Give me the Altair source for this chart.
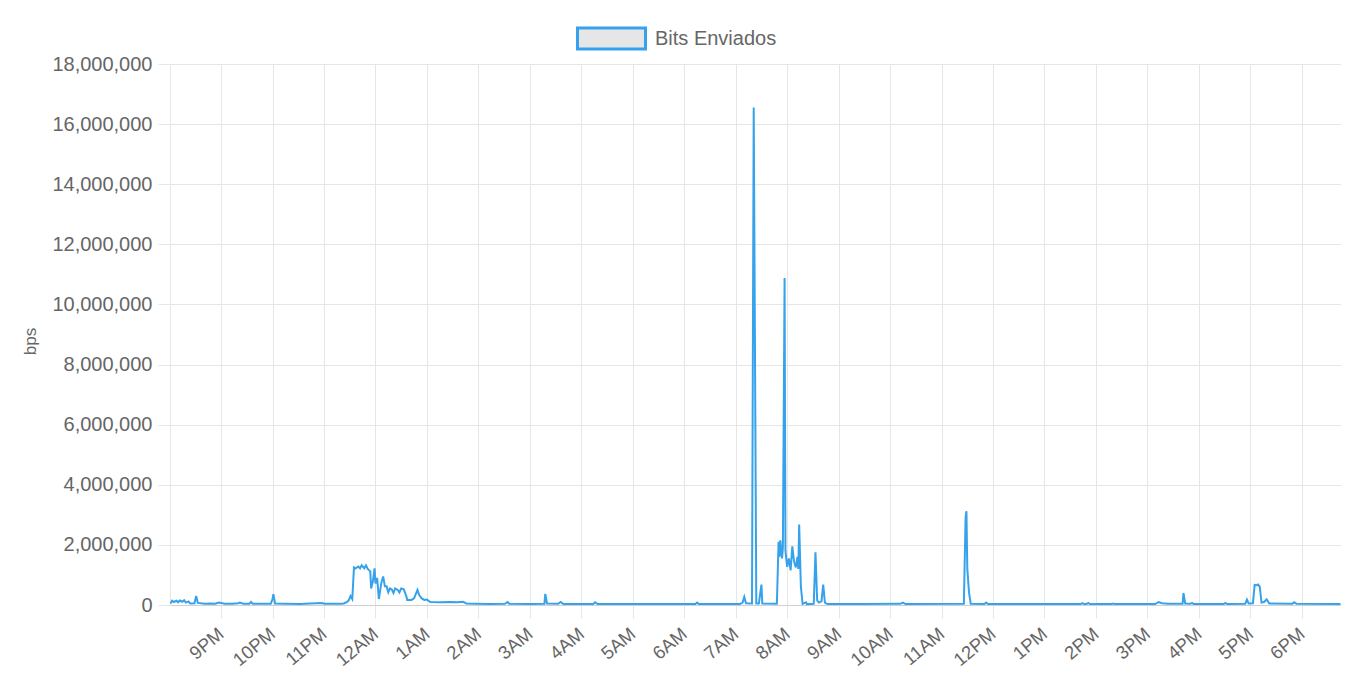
import altair as alt
import pandas as pd

series_name = "Bits Enviados"

times = [
    "20:01", "20:03", "20:05", "20:08", "20:10", "20:12", "20:15", "20:17", "20:19", "20:22",
    "20:24", "20:29", "20:31", "20:33", "20:41", "20:47", "20:53", "20:58", "21:00", "21:04",
    "21:13", "21:20", "21:22", "21:26", "21:33", "21:35", "21:37", "21:58", "22:00", "22:01",
    "22:03", "22:15", "22:32", "22:44", "22:58", "23:00", "23:19", "23:23", "23:27", "23:29",
    "23:31", "23:33", "23:35", "23:37", "23:40", "23:42", "23:44", "23:47", "23:49", "23:51",
    "23:54", "23:55", "23:57", "23:59", "00:00", "00:02", "00:04", "00:07", "00:09", "00:11",
    "00:13", "00:15", "00:17", "00:19", "00:21", "00:23", "00:26", "00:28", "00:30", "00:33",
    "00:36", "00:37", "00:42", "00:45", "00:49", "00:51", "00:54", "00:57", "01:00", "01:04",
    "01:15", "01:27", "01:36", "01:42", "01:46", "01:56", "02:14", "02:31", "02:34", "02:36",
    "03:00", "03:17", "03:18", "03:20", "03:33", "03:36", "03:39", "03:59", "04:14", "04:16",
    "04:19", "05:09", "06:13", "06:15", "06:17", "07:05", "07:08", "07:10", "07:12", "07:19",
    "07:21", "07:24", "07:27", "07:30", "07:31", "07:48", "07:50", "07:51", "07:52", "07:54",
    "07:55", "07:57", "07:58", "08:00", "08:02", "08:04", "08:06", "08:08", "08:10", "08:12",
    "08:13", "08:14", "08:16", "08:18", "08:22", "08:23", "08:31", "08:33", "08:35", "08:37",
    "08:40", "08:42", "08:44", "08:47", "09:25", "10:12", "10:15", "10:18", "11:26", "11:28",
    "11:29", "11:30", "11:32", "11:34", "11:50", "11:52", "11:54", "12:54", "13:42", "13:44",
    "13:46", "13:49", "13:51", "13:53", "14:18", "14:20", "14:22", "15:09", "15:13", "15:17",
    "15:24", "15:41", "15:42", "15:44", "15:50", "15:52", "15:54", "16:29", "16:31", "16:33",
    "16:54", "16:56", "16:58", "17:03", "17:05", "17:07", "17:09", "17:11", "17:13", "17:16",
    "17:19", "17:22", "17:49", "17:51", "17:54", "18:45",
]

values = [
    50000, 140000, 100000, 140000, 90000, 150000, 110000, 160000, 80000, 120000,
    50000, 60000, 300000, 70000, 40000, 50000, 40000, 80000, 70000, 40000,
    40000, 60000, 80000, 40000, 40000, 100000, 40000, 40000, 200000, 360000,
    50000, 40000, 30000, 50000, 70000, 40000, 40000, 50000, 100000, 160000,
    300000, 200000, 1250000, 1220000, 1280000, 1220000, 1320000, 1220000, 1320000, 1200000,
    1120000, 550000, 780000, 1220000, 720000, 900000, 200000, 750000, 950000, 620000,
    620000, 420000, 550000, 520000, 400000, 550000, 500000, 420000, 550000, 520000,
    300000, 170000, 170000, 220000, 500000, 330000, 220000, 170000, 180000, 100000,
    90000, 100000, 90000, 110000, 50000, 40000, 30000, 40000, 100000, 40000,
    30000, 40000, 370000, 50000, 40000, 100000, 30000, 30000, 30000, 90000,
    30000, 30000, 30000, 80000, 30000, 30000, 80000, 270000, 60000, 50000,
    16550000, 50000, 50000, 680000, 50000, 40000, 2100000, 1600000, 2150000, 1550000,
    1900000, 10880000, 1800000, 1270000, 1550000, 1150000, 1950000, 1450000, 1250000, 1600000,
    1200000, 2680000, 600000, 40000, 90000, 30000, 40000, 1750000, 150000, 80000,
    120000, 680000, 80000, 30000, 30000, 40000, 80000, 30000, 40000, 2900000,
    3120000, 1200000, 420000, 40000, 30000, 80000, 30000, 30000, 30000, 60000,
    30000, 30000, 70000, 30000, 30000, 50000, 30000, 30000, 100000, 60000,
    40000, 40000, 400000, 50000, 40000, 70000, 30000, 30000, 70000, 30000,
    40000, 180000, 50000, 60000, 670000, 660000, 680000, 600000, 80000, 100000,
    190000, 50000, 40000, 90000, 40000, 30000,
]

y_ticks = [0, 2000000, 4000000, 6000000, 8000000, 10000000, 12000000,
           14000000, 16000000, 18000000]

# hour ticks shown on the x axis (21h of day one through 18h of day two)
tick_hours = [21, 22, 23, 0, 1, 2, 3, 4, 5, 6, 7, 8, 9, 10, 11, 12, 13, 14, 15, 16, 17, 18]

day_one = "2024-05-14"
day_two = "2024-05-15"
x_start = "2024-05-14T20:00:30"
x_end = "2024-05-15T18:45:40"


def to_iso(hhmm):
    hour = int(hhmm[:2])
    day = day_one if hour >= 20 else day_two
    return f"{day}T{hhmm}:00"


def to_dt(iso):
    return alt.DateTime(
        year=int(iso[0:4]), month=int(iso[5:7]), date=int(iso[8:10]),
        hours=int(iso[11:13]), minutes=int(iso[14:16]), seconds=int(iso[17:19]),
    )


df = pd.DataFrame({
    "time": [to_iso(t) for t in times],
    "bps": values,
    "series": [series_name] * len(values),
})

tick_values = [to_dt(to_iso(f"{h:02d}:00")) for h in tick_hours]

FONT = "Liberation Sans"
TEXT = "#666666"
GRID = "#e6e6e6"
BLUE = "#36a2eb"

chart = alt.Chart(df).mark_line(strokeWidth=2).encode(
    x=alt.X(
        "time:T",
        scale=alt.Scale(domain=[to_dt(x_start), to_dt(x_end)], nice=False),
        axis=alt.Axis(
            title=None,
            format="%-I%p",
            values=tick_values,
            labelAngle=-40,
            labelAlign="right",
            labelBaseline="top",
            labelOverlap=False,
            labelFlush=False,
            tickSize=13,
            labelPadding=6,
            labelOffset=-6,
            grid=True,
            gridColor=GRID,
            tickColor=GRID,
            domainColor="#d0d0d0",
            labelFontSize=18.5,
            labelColor=TEXT,
            labelFont=FONT,
        ),
    ),
    y=alt.Y(
        "bps:Q",
        scale=alt.Scale(domain=[0, 18000000], nice=False),
        axis=alt.Axis(
            title="bps",
            values=y_ticks,
            format=",.0f",
            tickSize=12,
            labelPadding=6,
            grid=True,
            gridColor=GRID,
            tickColor=GRID,
            domainColor=GRID,
            labelFontSize=20,
            labelColor=TEXT,
            labelFont=FONT,
            titleFont=FONT,
            titleFontSize=17,
            titleFontWeight="normal",
            titleColor=TEXT,
            titleAngle=270,
            titleX=-140,
            titleY=277,
            titleAlign="center",
            titleBaseline="middle",
        ),
    ),
    color=alt.Color(
        "series:N",
        scale=alt.Scale(range=[BLUE]),
        legend=alt.Legend(
            title=None,
            orient="none",
            legendX=406,
            legendY=-61,
            symbolType="M-1,-0.31L1,-0.31L1,0.31L-1,0.31Z",
            symbolSize=4624,
            symbolFillColor="#e6e6e6",
            symbolStrokeColor=BLUE,
            symbolStrokeWidth=3,
            labelFont=FONT,
            labelFontSize=20,
            labelColor=TEXT,
            labelOffset=8,
        ),
    ),
).properties(
    width=1171,
    height=541,
    autosize=alt.AutoSizeParams(type="none"),
    padding={"left": 162, "top": 56, "right": 0, "bottom": 64},
).configure(
    font=FONT
).configure_view(
    strokeWidth=0
)

chart.save("out.html", embed_options={"renderer": "svg", "actions": False})
